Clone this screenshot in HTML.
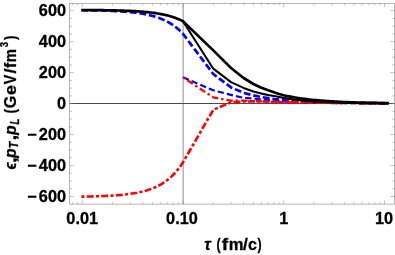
<!DOCTYPE html>
<html><head><meta charset="utf-8">
<style>
html,body{margin:0;padding:0;background:#fff;}
svg{display:block}
.gs{filter:grayscale(1)}
text{font-family:"Liberation Sans",sans-serif;font-weight:bold;fill:#000;stroke:#000;stroke-width:0.3px;stroke-linejoin:round}
.tl{font-size:16.3px}
.al{font-size:16px}
.i{font-style:italic}
</style></head><body>
<svg width="395" height="255" viewBox="0 0 395 255">
<rect width="395" height="255" fill="#fff"/>
<!-- gridline and axis -->
<line x1="183.15" y1="3.5" x2="183.15" y2="204.1" stroke="#9a9a9a" stroke-width="1.1"/>
<line x1="69.65" y1="103.55" x2="394.45" y2="103.55" stroke="#4a4a4a" stroke-width="1.1"/>
<!-- curves -->
<g fill="none" stroke-linejoin="round">
<polyline points="81.32,10.23 83.01,10.25 84.70,10.27 86.40,10.29 88.09,10.32 89.79,10.34 91.48,10.37 93.17,10.40 94.87,10.43 96.56,10.46 98.26,10.50 99.95,10.54 101.64,10.58 103.34,10.63 105.03,10.68 106.72,10.73 108.42,10.79 110.11,10.86 111.81,10.93 113.50,11.00 115.19,11.08 116.89,11.17 118.58,11.26 120.28,11.36 121.97,11.47 123.66,11.59 125.36,11.71 127.05,11.85 128.75,12.00 130.44,12.16 132.13,12.34 133.83,12.52 135.52,12.73 137.21,12.94 138.91,13.18 140.60,13.44 142.30,13.71 143.99,14.01 145.68,14.33 147.38,14.68 149.07,15.06 150.77,15.47 152.46,15.90 154.15,16.38 155.85,16.89 157.54,17.45 159.24,18.05 160.93,18.69 162.62,19.39 164.32,20.15 166.01,20.97 167.70,21.85 169.40,22.80 171.09,23.83 172.79,24.94 174.48,26.15 176.17,27.45 177.87,28.85 179.56,30.37 181.26,32.01 182.95,33.78 213.28,74.00 231.02,87.40 243.61,92.90 253.37,95.40 261.35,97.00 268.09,98.10 273.94,99.00 279.09,99.60 283.70,100.20 287.87,100.72 291.68,101.20 295.18,101.56 298.42,101.90 301.44,102.11 304.27,102.31 306.92,102.50 309.42,102.54 311.78,102.57 314.03,102.60 316.16,102.62 318.20,102.65 320.14,102.67 322.01,102.69 323.79,102.71 325.51,102.73 327.16,102.75 328.75,102.77 330.29,102.78 331.77,102.80 333.20,102.81 334.59,102.83 335.94,102.84 337.25,102.85 338.51,102.86 339.75,102.87 340.95,102.88 342.11,102.89 343.25,102.90 344.36,102.91 345.44,102.92 346.49,102.93 347.52,102.94 348.53,102.95 349.51,102.96 350.47,102.97 351.41,102.98 352.34,102.98 353.24,102.99 354.12,103.00 354.99,103.01 355.84,103.01 356.67,103.02 357.49,103.02 358.29,103.03 359.08,103.04 359.85,103.04 360.62,103.05 361.36,103.05 362.10,103.06 362.82,103.06 363.53,103.07 364.23,103.07 364.92,103.08 365.60,103.08 366.27,103.09 366.93,103.09 367.58,103.10 368.21,103.10 368.84,103.11 369.46,103.11 370.08,103.12 370.68,103.12 371.28,103.12 371.86,103.13 372.44,103.13 373.01,103.14 373.58,103.14 374.14,103.15 374.69,103.15 375.23,103.15 375.77,103.16 376.30,103.16 376.82,103.16 377.34,103.17 377.85,103.17 378.36,103.18 378.86,103.18 379.35,103.18 379.84,103.19 380.32,103.19 380.80,103.19 381.27,103.20 381.74,103.20 382.21,103.20 382.66,103.21 383.12,103.21 383.57,103.21 384.01,103.22 384.45,103.22 384.89,103.22 385.32,103.23 385.74,103.23 386.17,103.23 386.58,103.24 387.00,103.24 387.41,103.24 387.82,103.24 388.22,103.25 388.62,103.25" stroke="#0000ff" stroke-width="2.7" stroke-dasharray="6.8 2.9"/>
<polyline points="182.95,77.30 213.28,90.30 231.02,94.90 243.61,97.90 253.37,98.60 261.35,99.50 268.09,100.10 273.94,100.60 279.09,101.00 283.70,101.40 287.87,101.69 291.68,101.95 295.18,102.13 298.42,102.30 301.44,102.37 304.27,102.44 306.92,102.50 309.42,102.54 311.78,102.57 314.03,102.60 316.16,102.62 318.20,102.65 320.14,102.67 322.01,102.69 323.79,102.71 325.51,102.73 327.16,102.75 328.75,102.77 330.29,102.78 331.77,102.80 333.20,102.81 334.59,102.83 335.94,102.84 337.25,102.85 338.51,102.86 339.75,102.87 340.95,102.88 342.11,102.89 343.25,102.90 344.36,102.91 345.44,102.92 346.49,102.93 347.52,102.94 348.53,102.95 349.51,102.96 350.47,102.97 351.41,102.98 352.34,102.98 353.24,102.99 354.12,103.00 354.99,103.01 355.84,103.01 356.67,103.02 357.49,103.02 358.29,103.03 359.08,103.04 359.85,103.04 360.62,103.05 361.36,103.05 362.10,103.06 362.82,103.06 363.53,103.07 364.23,103.07 364.92,103.08 365.60,103.08 366.27,103.09 366.93,103.09 367.58,103.10 368.21,103.10 368.84,103.11 369.46,103.11 370.08,103.12 370.68,103.12 371.28,103.12 371.86,103.13 372.44,103.13 373.01,103.14 373.58,103.14 374.14,103.15 374.69,103.15 375.23,103.15 375.77,103.16 376.30,103.16 376.82,103.16 377.34,103.17 377.85,103.17 378.36,103.18 378.86,103.18 379.35,103.18 379.84,103.19 380.32,103.19 380.80,103.19 381.27,103.20 381.74,103.20 382.21,103.20 382.66,103.21 383.12,103.21 383.57,103.21 384.01,103.22 384.45,103.22 384.89,103.22 385.32,103.23 385.74,103.23 386.17,103.23 386.58,103.24 387.00,103.24 387.41,103.24 387.82,103.24 388.22,103.25 388.62,103.25" stroke="#0000ff" stroke-width="2.2" stroke-dasharray="6.3 3.1"/>
<polyline points="81.32,196.63 83.01,196.60 84.70,196.58 86.40,196.54 88.09,196.51 89.79,196.47 91.48,196.43 93.17,196.39 94.87,196.35 96.56,196.30 98.26,196.24 99.95,196.18 101.64,196.12 103.34,196.05 105.03,195.98 106.72,195.90 108.42,195.82 110.11,195.73 111.81,195.63 113.50,195.52 115.19,195.40 116.89,195.28 118.58,195.14 120.28,194.99 121.97,194.84 123.66,194.66 125.36,194.48 127.05,194.28 128.75,194.06 130.44,193.83 132.13,193.58 133.83,193.30 135.52,193.01 137.21,192.69 138.91,192.35 140.60,191.98 142.30,191.58 143.99,191.14 145.68,190.67 147.38,190.17 149.07,189.62 150.77,189.03 152.46,188.39 154.15,187.70 155.85,186.95 157.54,186.15 159.24,185.28 160.93,184.34 162.62,183.32 164.32,182.22 166.01,181.04 167.70,179.75 169.40,178.37 171.09,176.87 172.79,175.25 174.48,173.51 176.17,171.62 177.87,169.58 179.56,167.37 181.26,164.99 182.95,162.42 213.28,109.80 231.02,102.30 243.61,101.50 253.37,101.40 261.35,101.50 268.09,101.70 273.94,101.90 279.09,102.10 283.70,102.30 287.87,102.34 291.68,102.37 295.18,102.40 298.42,102.42 301.44,102.45 304.27,102.48 306.92,102.52 309.42,102.55 311.78,102.57 314.03,102.60 316.16,102.62 318.20,102.65 320.14,102.67 322.01,102.69 323.79,102.71 325.51,102.73 327.16,102.75 328.75,102.77 330.29,102.78 331.77,102.80 333.20,102.81 334.59,102.83 335.94,102.84 337.25,102.85 338.51,102.86 339.75,102.87 340.95,102.88 342.11,102.89 343.25,102.90 344.36,102.91 345.44,102.92 346.49,102.93 347.52,102.94 348.53,102.95 349.51,102.96 350.47,102.97 351.41,102.98 352.34,102.98 353.24,102.99 354.12,103.00 354.99,103.01 355.84,103.01 356.67,103.02 357.49,103.02 358.29,103.03 359.08,103.04 359.85,103.04 360.62,103.05 361.36,103.05 362.10,103.06 362.82,103.06 363.53,103.07 364.23,103.07 364.92,103.08 365.60,103.08 366.27,103.09 366.93,103.09 367.58,103.10 368.21,103.10 368.84,103.11 369.46,103.11 370.08,103.12 370.68,103.12 371.28,103.12 371.86,103.13 372.44,103.13 373.01,103.14 373.58,103.14 374.14,103.15 374.69,103.15 375.23,103.15 375.77,103.16 376.30,103.16 376.82,103.16 377.34,103.17 377.85,103.17 378.36,103.18 378.86,103.18 379.35,103.18 379.84,103.19 380.32,103.19 380.80,103.19 381.27,103.20 381.74,103.20 382.21,103.20 382.66,103.21 383.12,103.21 383.57,103.21 384.01,103.22 384.45,103.22 384.89,103.22 385.32,103.23 385.74,103.23 386.17,103.23 386.58,103.24 387.00,103.24 387.41,103.24 387.82,103.24 388.22,103.25 388.62,103.25" stroke="#ff0000" stroke-width="2.6" stroke-dasharray="3.1 2.3 6.9 2.3"/>
<polyline points="182.95,77.30 213.28,97.40 231.02,100.70 243.61,100.60 253.37,101.00 261.35,101.40 268.09,101.70 273.94,101.90 279.09,102.10 283.70,102.30 287.87,102.34 291.68,102.37 295.18,102.40 298.42,102.42 301.44,102.45 304.27,102.48 306.92,102.52 309.42,102.55 311.78,102.57 314.03,102.60 316.16,102.62 318.20,102.65 320.14,102.67 322.01,102.69 323.79,102.71 325.51,102.73 327.16,102.75 328.75,102.77 330.29,102.78 331.77,102.80 333.20,102.81 334.59,102.83 335.94,102.84 337.25,102.85 338.51,102.86 339.75,102.87 340.95,102.88 342.11,102.89 343.25,102.90 344.36,102.91 345.44,102.92 346.49,102.93 347.52,102.94 348.53,102.95 349.51,102.96 350.47,102.97 351.41,102.98 352.34,102.98 353.24,102.99 354.12,103.00 354.99,103.01 355.84,103.01 356.67,103.02 357.49,103.02 358.29,103.03 359.08,103.04 359.85,103.04 360.62,103.05 361.36,103.05 362.10,103.06 362.82,103.06 363.53,103.07 364.23,103.07 364.92,103.08 365.60,103.08 366.27,103.09 366.93,103.09 367.58,103.10 368.21,103.10 368.84,103.11 369.46,103.11 370.08,103.12 370.68,103.12 371.28,103.12 371.86,103.13 372.44,103.13 373.01,103.14 373.58,103.14 374.14,103.15 374.69,103.15 375.23,103.15 375.77,103.16 376.30,103.16 376.82,103.16 377.34,103.17 377.85,103.17 378.36,103.18 378.86,103.18 379.35,103.18 379.84,103.19 380.32,103.19 380.80,103.19 381.27,103.20 381.74,103.20 382.21,103.20 382.66,103.21 383.12,103.21 383.57,103.21 384.01,103.22 384.45,103.22 384.89,103.22 385.32,103.23 385.74,103.23 386.17,103.23 386.58,103.24 387.00,103.24 387.41,103.24 387.82,103.24 388.22,103.25 388.62,103.25" stroke="#ff0000" stroke-width="2.2" stroke-dasharray="2.4 3.0 6.4 3.0"/>
<polyline points="182.95,21.23 213.28,68.70 231.02,82.10 243.61,87.90 253.37,91.50 261.35,93.60 268.09,95.00 273.94,96.00 279.09,97.00 283.70,97.90 287.87,98.61 291.68,99.18 295.18,99.65 298.42,100.04 301.44,100.37 304.27,100.65 306.92,100.89 309.42,101.10 311.78,101.28 314.03,101.44 316.16,101.58 318.20,101.71 320.14,101.82 322.01,101.93 323.79,102.02 325.51,102.10 327.16,102.18 328.75,102.25 330.29,102.32 331.77,102.38 333.20,102.43 334.59,102.48 335.94,102.53 337.25,102.57 338.51,102.61 339.75,102.65 340.95,102.69 342.11,102.72 343.25,102.75 344.36,102.78 345.44,102.81 346.49,102.84 347.52,102.86 348.53,102.88 349.51,102.91 350.47,102.93 351.41,102.95 352.34,102.97 353.24,102.98 354.12,103.00 354.99,103.02 355.84,103.03 356.67,103.05 357.49,103.06 358.29,103.08 359.08,103.09 359.85,103.10 360.62,103.11 361.36,103.13 362.10,103.14 362.82,103.15 363.53,103.16 364.23,103.17 364.92,103.18 365.60,103.19 366.27,103.19 366.93,103.20 367.58,103.21 368.21,103.22 368.84,103.23 369.46,103.23 370.08,103.24 370.68,103.25 371.28,103.25 371.86,103.26 372.44,103.27 373.01,103.27 373.58,103.28 374.14,103.28 374.69,103.29 375.23,103.30 375.77,103.30 376.30,103.31 376.82,103.31 377.34,103.32 377.85,103.32 378.36,103.32 378.86,103.33 379.35,103.33 379.84,103.34 380.32,103.34 380.80,103.34 381.27,103.35 381.74,103.35 382.21,103.36 382.66,103.36 383.12,103.36 383.57,103.37 384.01,103.37 384.45,103.37 384.89,103.38 385.32,103.38 385.74,103.38 386.17,103.39 386.58,103.39 387.00,103.39 387.41,103.39 387.82,103.40 388.22,103.40 388.62,103.40" stroke="#000" stroke-width="2.1"/>
<polyline points="81.32,10.04 83.01,10.05 84.70,10.05 86.40,10.06 88.09,10.08 89.79,10.09 91.48,10.10 93.17,10.11 94.87,10.13 96.56,10.15 98.26,10.16 99.95,10.18 101.64,10.20 103.34,10.22 105.03,10.25 106.72,10.27 108.42,10.30 110.11,10.33 111.81,10.37 113.50,10.40 115.19,10.44 116.89,10.48 118.58,10.52 120.28,10.57 121.97,10.62 123.66,10.68 125.36,10.74 127.05,10.81 128.75,10.88 130.44,10.95 132.13,11.04 133.83,11.12 135.52,11.22 137.21,11.33 138.91,11.44 140.60,11.56 142.30,11.69 143.99,11.83 145.68,11.99 147.38,12.15 149.07,12.33 150.77,12.52 152.46,12.73 154.15,12.96 155.85,13.20 157.54,13.47 159.24,13.75 160.93,14.06 162.62,14.39 164.32,14.75 166.01,15.14 167.70,15.56 169.40,16.01 171.09,16.50 172.79,17.03 174.48,17.60 176.17,18.22 177.87,18.89 179.56,19.61 181.26,20.39 182.95,21.23 213.28,50.40 231.02,68.00 243.61,78.00 253.37,84.00 261.35,87.70 268.09,90.30 273.94,92.30 279.09,94.00 283.70,95.30 287.87,96.20 291.68,96.93 295.18,97.54 298.42,98.06 301.44,98.50 304.27,98.88 306.92,99.21 309.42,99.50 311.78,99.76 314.03,99.99 316.16,100.19 318.20,100.38 320.14,100.55 322.01,100.70 323.79,100.84 325.51,100.96 327.16,101.08 328.75,101.19 330.29,101.29 331.77,101.38 333.20,101.46 334.59,101.54 335.94,101.62 337.25,101.69 338.51,101.75 339.75,101.82 340.95,101.87 342.11,101.93 343.25,101.98 344.36,102.03 345.44,102.07 346.49,102.12 347.52,102.16 348.53,102.20 349.51,102.23 350.47,102.27 351.41,102.30 352.34,102.34 353.24,102.37 354.12,102.40 354.99,102.43 355.84,102.45 356.67,102.48 357.49,102.50 358.29,102.53 359.08,102.55 359.85,102.57 360.62,102.59 361.36,102.61 362.10,102.63 362.82,102.65 363.53,102.67 364.23,102.69 364.92,102.71 365.60,102.72 366.27,102.74 366.93,102.75 367.58,102.77 368.21,102.78 368.84,102.80 369.46,102.81 370.08,102.82 370.68,102.84 371.28,102.85 371.86,102.86 372.44,102.87 373.01,102.88 373.58,102.89 374.14,102.91 374.69,102.92 375.23,102.93 375.77,102.94 376.30,102.95 376.82,102.95 377.34,102.96 377.85,102.97 378.36,102.98 378.86,102.99 379.35,103.00 379.84,103.01 380.32,103.01 380.80,103.02 381.27,103.03 381.74,103.04 382.21,103.04 382.66,103.05 383.12,103.06 383.57,103.06 384.01,103.07 384.45,103.08 384.89,103.08 385.32,103.09 385.74,103.09 386.17,103.10 386.58,103.11 387.00,103.11 387.41,103.12 387.82,103.12 388.22,103.13 388.62,103.13" stroke="#000" stroke-width="2.7"/>
</g>
<!-- frame -->
<rect x="69.65" y="3.5" width="324.80" height="200.60" fill="none" stroke="#808080" stroke-width="0.58"/>
<path d="M82.20,204.1 v-3.6 M82.20,3.5 v3.6 M182.95,204.1 v-3.6 M182.95,3.5 v3.6 M283.70,204.1 v-3.6 M283.70,3.5 v3.6 M384.45,204.1 v-3.6 M384.45,3.5 v3.6 M72.44,204.1 v-1.8 M72.44,3.5 v1.8 M77.59,204.1 v-1.8 M77.59,3.5 v1.8 M112.53,204.1 v-1.8 M112.53,3.5 v1.8 M130.27,204.1 v-1.8 M130.27,3.5 v1.8 M142.86,204.1 v-1.8 M142.86,3.5 v1.8 M152.62,204.1 v-1.8 M152.62,3.5 v1.8 M160.60,204.1 v-1.8 M160.60,3.5 v1.8 M167.34,204.1 v-1.8 M167.34,3.5 v1.8 M173.19,204.1 v-1.8 M173.19,3.5 v1.8 M178.34,204.1 v-1.8 M178.34,3.5 v1.8 M213.28,204.1 v-1.8 M213.28,3.5 v1.8 M231.02,204.1 v-1.8 M231.02,3.5 v1.8 M243.61,204.1 v-1.8 M243.61,3.5 v1.8 M253.37,204.1 v-1.8 M253.37,3.5 v1.8 M261.35,204.1 v-1.8 M261.35,3.5 v1.8 M268.09,204.1 v-1.8 M268.09,3.5 v1.8 M273.94,204.1 v-1.8 M273.94,3.5 v1.8 M279.09,204.1 v-1.8 M279.09,3.5 v1.8 M314.03,204.1 v-1.8 M314.03,3.5 v1.8 M331.77,204.1 v-1.8 M331.77,3.5 v1.8 M344.36,204.1 v-1.8 M344.36,3.5 v1.8 M354.12,204.1 v-1.8 M354.12,3.5 v1.8 M362.10,204.1 v-1.8 M362.10,3.5 v1.8 M368.84,204.1 v-1.8 M368.84,3.5 v1.8 M374.69,204.1 v-1.8 M374.69,3.5 v1.8 M379.84,204.1 v-1.8 M379.84,3.5 v1.8 M69.65,196.50 h3.9 M394.45,196.50 h-3.9 M69.65,188.76 h2.3 M394.45,188.76 h-2.3 M69.65,181.01 h2.3 M394.45,181.01 h-2.3 M69.65,173.27 h2.3 M394.45,173.27 h-2.3 M69.65,165.53 h3.9 M394.45,165.53 h-3.9 M69.65,157.79 h2.3 M394.45,157.79 h-2.3 M69.65,150.05 h2.3 M394.45,150.05 h-2.3 M69.65,142.31 h2.3 M394.45,142.31 h-2.3 M69.65,134.57 h3.9 M394.45,134.57 h-3.9 M69.65,126.82 h2.3 M394.45,126.82 h-2.3 M69.65,119.08 h2.3 M394.45,119.08 h-2.3 M69.65,111.34 h2.3 M394.45,111.34 h-2.3 M69.65,103.60 h3.9 M394.45,103.60 h-3.9 M69.65,95.86 h2.3 M394.45,95.86 h-2.3 M69.65,88.12 h2.3 M394.45,88.12 h-2.3 M69.65,80.38 h2.3 M394.45,80.38 h-2.3 M69.65,72.63 h3.9 M394.45,72.63 h-3.9 M69.65,64.89 h2.3 M394.45,64.89 h-2.3 M69.65,57.15 h2.3 M394.45,57.15 h-2.3 M69.65,49.41 h2.3 M394.45,49.41 h-2.3 M69.65,41.67 h3.9 M394.45,41.67 h-3.9 M69.65,33.93 h2.3 M394.45,33.93 h-2.3 M69.65,26.19 h2.3 M394.45,26.19 h-2.3 M69.65,18.44 h2.3 M394.45,18.44 h-2.3 M69.65,10.70 h3.9 M394.45,10.70 h-3.9" stroke="#808080" stroke-width="0.5" fill="none"/>
<!-- y tick labels -->
<g class="gs">
<g class="tl" text-anchor="end">
<text x="66.0" y="16.40">600</text>
<text x="66.0" y="47.37">400</text>
<text x="66.0" y="78.33">200</text>
<text x="66.0" y="109.30">0</text>
<text x="66.0" y="140.27">−<tspan dx="2">200</tspan></text>
<text x="66.0" y="171.23">−<tspan dx="2">400</tspan></text>
<text x="66.0" y="202.20">−<tspan dx="2">600</tspan></text>
</g>
<g class="tl" text-anchor="middle">
<text x="82.20" y="223.5">0.01</text>
<text x="181.95" y="223.5">0.10</text>
<text x="283.70" y="223.5">1</text>
<text x="384.05" y="223.5">10</text>
</g>
<text font-style="italic" font-size="16.5" transform="translate(204.15,249.6) scale(0.973,1)">τ</text>
<text font-size="16.5" transform="translate(216.48,249.6) scale(0.752,1)">(</text>
<text font-size="16.5" transform="translate(221.87,249.6) scale(1.163,1)">f</text>
<text font-size="16.5" transform="translate(228.81,249.6) scale(1.003,1)">m</text>
<text font-size="16.5" transform="translate(242.93,249.6) scale(1.056,1)">/</text>
<text font-size="16.5" transform="translate(247.88,249.6) scale(0.969,1)">c</text>
<text font-size="16.5" transform="translate(257.39,249.6) scale(0.752,1)">)</text>
<g transform="translate(16.1,170) rotate(-90)"><text font-style="italic" font-size="16.5" transform="translate(0.44,0) scale(0.898,1)">ϵ</text>
<text font-size="16.5" transform="translate(7.08,0) scale(1.271,1)">,</text>
<text font-style="italic" font-size="16.5" transform="translate(11.94,0) scale(0.949,1)">p</text>
<text font-style="italic" font-size="12" transform="translate(21.85,2.2) scale(0.887,1)">T</text>
<text font-size="16.5" transform="translate(29.48,0) scale(1.271,1)">,</text>
<text font-style="italic" font-size="16.5" transform="translate(34.95,0) scale(0.959,1)">p</text>
<text font-style="italic" font-size="12" transform="translate(45.43,2.6) scale(0.810,1)">L</text>
<text font-size="16.5" transform="translate(56.61,0) scale(0.837,1)">(</text>
<text font-size="16.5" transform="translate(61.64,0) scale(0.979,1)">G</text>
<text font-size="16.5" transform="translate(75.10,0) scale(1.079,1)">e</text>
<text font-size="16.5" transform="translate(85.70,0) scale(0.872,1)">V</text>
<text font-size="16.5" transform="translate(96.62,0) scale(1.103,1)">/</text>
<text font-size="16.5" transform="translate(102.03,0) scale(0.972,1)">f</text>
<text font-size="16.5" transform="translate(107.72,0) scale(0.900,1)">m</text>
<text font-size="10.5" transform="translate(122.78,-8.4) scale(0.901,1)">3</text>
<text font-size="16.5" transform="translate(130.09,0) scale(0.795,1)">)</text></g>
</g>
</svg>
</body></html>
